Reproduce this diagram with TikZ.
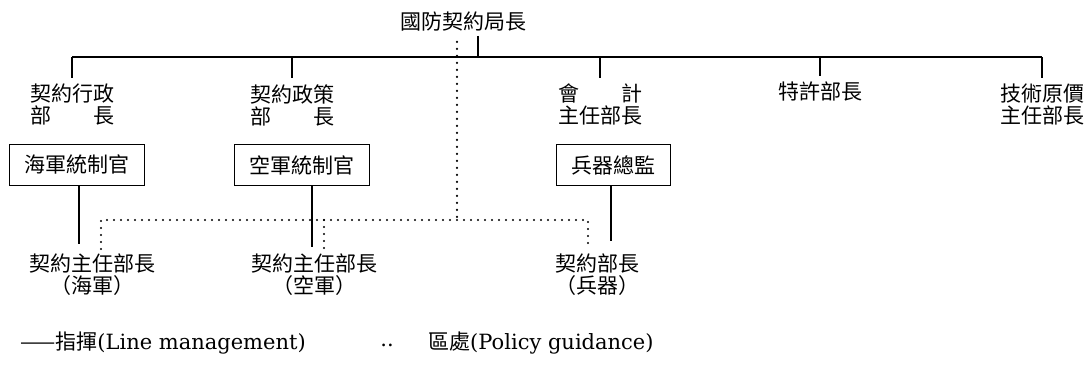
\documentclass[tikz,border=0pt]{standalone}
\usepackage{fontspec}
\setmainfont{DejaVu Serif}
\newfontfamily\cjk{Noto Sans CJK TC}
\usetikzlibrary{positioning}

\begin{document}
\begin{tikzpicture}[x=1pt, y=-1pt,
    every node/.style={font=\cjk\fontsize{21}{22}\selectfont, inner sep=0pt, align=center},
    office/.style={draw, line width=0.9pt, minimum height=41pt, inner xsep=15pt},
    guide/.style={line width=2.4pt, line cap=round, dash pattern=on 0pt off 7pt}]
    \useasboundingbox (0,0) rectangle (1086,368);
    % director and the line below him
    \node (chief) at (463,22) {國防契約局長};
    \coordinate (busL) at (72,57);
    \coordinate (busR) at (1042,57);
    \draw[line width=1.1pt] (busL) -- (busR);
    \draw[line width=1.1pt] ([xshift=15pt,yshift=-4pt]chief.south) -- ([xshift=15pt]chief.south |- busL);
    % first row
    \node[anchor=north] (admin) at (72,84) {契約行政\\部　　長};
    \node[anchor=north] (policy) at (292,84) {契約政策\\部　　長};
    \node[anchor=north] (acct) at (600,84) {會　　計\\主任部長};
    \node[anchor=north] (patent) at (820,82) {特許部長};
    \node[anchor=north] (cost) at (1042,84) {技術原價\\主任部長};
    \foreach \n in {admin,policy,acct,patent,cost}{
      \draw[line width=1.1pt] (\n.north |- busL) -- ([yshift=6pt]\n.north);
    }
    % service heads
    \node[office] (navy) at (77,165) {海軍統制官};
    \node[office] (air) at (302,165) {空軍統制官};
    \node[office] (ord) at (613,165) {兵器總監};
    % contracting chiefs
    \node[anchor=north] (navyk) at (92,254) {契約主任部長\\（海軍）};
    \node[anchor=north] (airk) at (314,254) {契約主任部長\\（空軍）};
    \node[anchor=north] (ordk) at (597,254) {契約部長\\（兵器）};
    \draw[line width=1.1pt] ([xshift=2pt]navy.south) -- ([xshift=2pt,yshift=10pt]navy.south |- navyk.north);
    \draw[line width=1.1pt] ([xshift=10pt]air.south) -- ([xshift=10pt,yshift=7pt]air.south |- airk.north);
    \draw[line width=1.1pt] ([xshift=-2pt]ord.south) -- ([xshift=-2pt,yshift=13pt]ord.south |- ordk.north);
    % policy guidance
    \coordinate (gjoin) at (457,220);
    \draw[guide] ([xshift=-6pt,yshift=-10pt]chief.south) -- (gjoin);
    \draw[guide] ([xshift=9pt,yshift=5pt]navyk.north) |- ([xshift=-9pt]ordk.north |- gjoin) -- ([xshift=-9pt,yshift=5pt]ordk.north);
    \draw[guide] ([xshift=10pt]airk.north |- gjoin) -- ([xshift=10pt,yshift=5pt]airk.north);
    % legend
    \node[anchor=west] (lineleg) at (20,343) {——指揮\normalfont(Line management)};
    \node (dotleg) at (387,345) {\normalfont..};
    \node[anchor=west] (guideleg) at (428,343) {區處\normalfont(Policy guidance)};
\end{tikzpicture}
\end{document}
